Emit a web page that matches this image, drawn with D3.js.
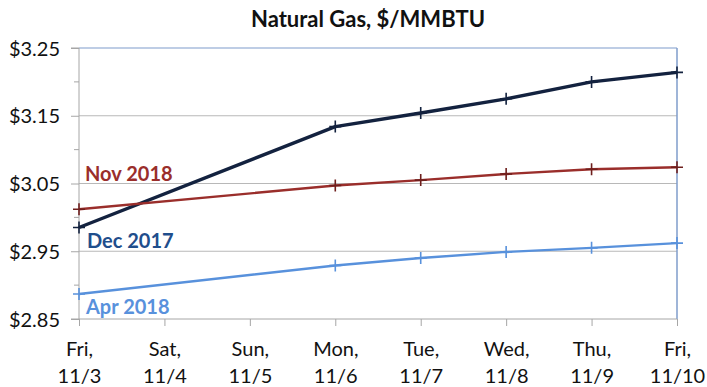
<!DOCTYPE html>
<html><head><meta charset="utf-8">
<script src="https://cdn.jsdelivr.net/npm/d3@7"></script>
<style>
body{margin:0;background:#fff;}
svg{display:block;font-family:Lato,"Open Sans",sans-serif;}
</style></head>
<body><svg id="c" width="707" height="387"></svg>
<script>
const days = ["Fri,", "Sat,", "Sun,", "Mon,", "Tue,", "Wed,", "Thu,", "Fri,"];
const dates = ["11/3", "11/4", "11/5", "11/6", "11/7", "11/8", "11/9", "11/10"];
const categories = dates;
const yTicks = [2.85, 2.95, 3.05, 3.15, 3.25];
const tradingDays = ["11/3", "11/6", "11/7", "11/8", "11/9", "11/10"];
const dec2017 = [2.985, 3.134, 3.154, 3.175, 3.200, 3.214];
const nov2018 = [3.012, 3.047, 3.055, 3.064, 3.071, 3.074];
const apr2018 = [2.887, 2.929, 2.940, 2.949, 2.955, 2.962];
const seriesNames = ["Nov 2018", "Dec 2017", "Apr 2018"];

const svg = d3.select("#c");
const L = 79, R = 677, T = 48, B = 319;
const FS = 20;
const x = d3.scalePoint().domain(categories).range([L, R]);
const y = d3.scaleLinear().domain([2.85, 3.25]).range([B, T]);

svg.append("text").attr("x", 368).attr("y", 27).attr("text-anchor", "middle")
  .attr("font-size", 22).attr("font-weight", "bold").attr("fill", "#111")
  .text("Natural Gas, $/MMBTU");

// gridlines
svg.append("g").selectAll("line").data(yTicks.slice(1)).join("line")
  .attr("x1", L).attr("x2", R).attr("y1", d => y(d)).attr("y2", d => y(d))
  .attr("stroke", d => d === 3.25 ? "#7f9ccb" : "#b8b8b8").attr("stroke-width", 1.2);
// right border
svg.append("line").attr("x1", R).attr("x2", R).attr("y1", T).attr("y2", B)
  .attr("stroke", "#7f9ccb").attr("stroke-width", 1.5);

// y axis
const yAxis = d3.axisLeft(y).tickValues(yTicks).tickSize(8).tickPadding(11)
  .tickFormat(d => "$" + d3.format(".2f")(d));
const gy = svg.append("g").attr("transform", `translate(${L},0)`).call(yAxis);
gy.select(".domain").attr("stroke", "#a6a6a6").attr("d", `M-8,${B}H0V${T}H-8`);
gy.selectAll(".tick line").attr("stroke", "#a6a6a6");
gy.selectAll(".tick text").attr("font-size", FS).attr("fill", "#111").attr("font-family", "Lato,'Open Sans',sans-serif").attr("dy", "0.35em");
// minor ticks
const minor = d3.range(0, 4).map(i => 2.90 + i * 0.1);
gy.append("g").selectAll("line").data(minor).join("line")
  .attr("x1", -5).attr("x2", 0).attr("y1", d => y(d)).attr("y2", d => y(d))
  .attr("stroke", "#a6a6a6");

// x axis
const xAxis = d3.axisBottom(x).tickSize(7).tickFormat(() => "");
const gx = svg.append("g").attr("transform", `translate(0,${B})`).call(xAxis);
gx.select(".domain").attr("stroke", "#a6a6a6").attr("d", `M${L},0H${R}`);
gx.selectAll(".tick line").attr("stroke", "#a6a6a6");
gx.selectAll(".tick").each(function(d, i) {
  const t = d3.select(this).append("text").attr("text-anchor", "middle")
    .attr("font-size", FS).attr("fill", "#111").attr("font-family", "Lato,'Open Sans',sans-serif");
  t.append("tspan").attr("x", 0).attr("y", 37).text(days[i]);
  t.append("tspan").attr("x", 0).attr("y", 64).text(dates[i]);
});

const series = [
  {name: seriesNames[1], vals: dec2017, color: "#13223f", mark: "#13223f", w: 3.4},
  {name: seriesNames[0], vals: nov2018, color: "#9a2e2b", mark: "#6e1f1d", w: 2.4},
  {name: seriesNames[2], vals: apr2018, color: "#5891dc", mark: "#5891dc", w: 2.4}
];
const line = d3.line().x(d => x(d[0])).y(d => y(d[1]));
series.forEach(s => {
  const pts = tradingDays.map((d, i) => [d, s.vals[i]]);
  svg.append("path").attr("d", line(pts)).attr("fill", "none")
    .attr("stroke", s.color).attr("stroke-width", s.w).attr("stroke-linejoin", "round");
  const g = svg.append("g");
  pts.forEach(p => {
    const cx = x(p[0]), cy = y(p[1]);
    g.append("path").attr("d", `M${cx-6},${cy}H${cx+6}M${cx},${cy-6}V${cy+6}`)
      .attr("stroke", s.mark).attr("stroke-width", 1.6);
  });
});

// labels
const labels = [
  {t: seriesNames[0], x: 85, y: 181, c: "#9a2e2b"},
  {t: seriesNames[1], x: 87, y: 248, c: "#1f4e8c"},
  {t: seriesNames[2], x: 86, y: 314, c: "#5891dc"}
];
svg.append("g").selectAll("text").data(labels).join("text")
  .attr("x", d => d.x).attr("y", d => d.y).attr("fill", d => d.c)
  .attr("font-size", FS).attr("font-weight", "bold").text(d => d.t);
</script></body></html>
